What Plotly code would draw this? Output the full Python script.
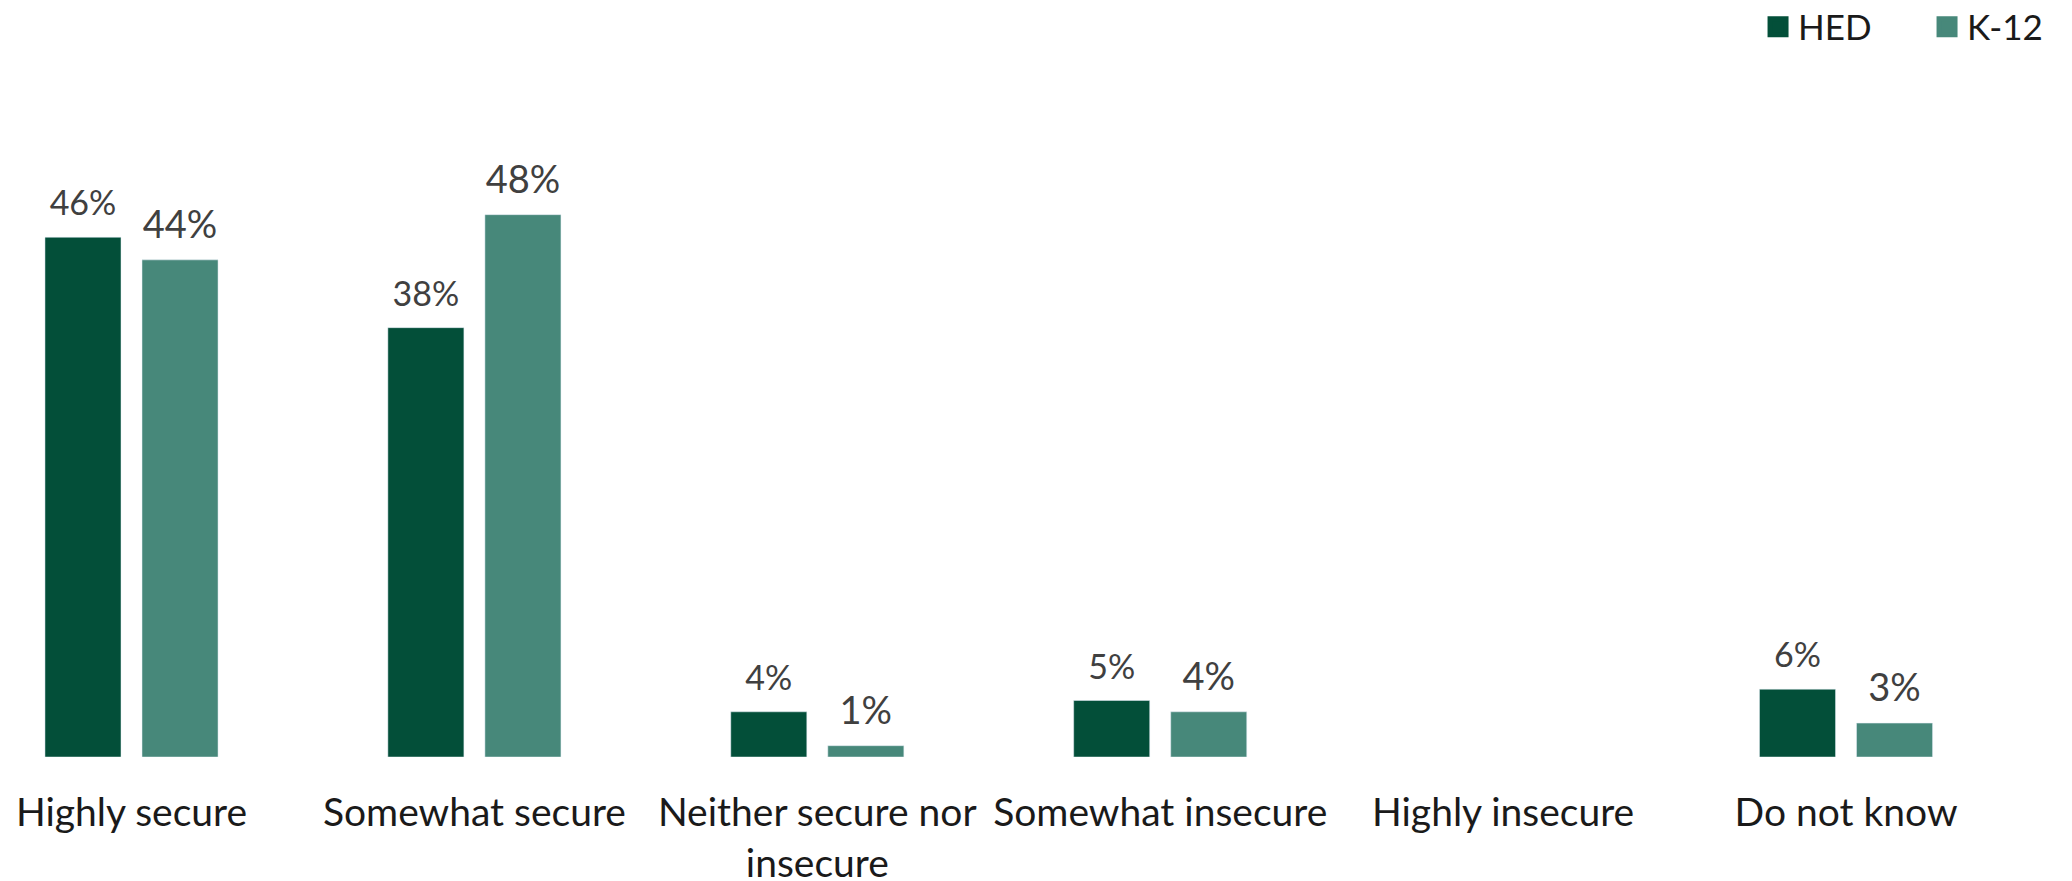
import plotly.graph_objects as go

categories = ["Highly secure", "Somewhat secure", "Neither secure nor insecure",
              "Somewhat insecure", "Highly insecure", "Do not know"]
tick_labels = ["Highly secure", "Somewhat secure", "Neither secure nor<br>insecure",
               "Somewhat insecure", "Highly insecure", "Do not know"]
hed_values = [46, 38, 4, 5, None, 6]
k12_values = [44, 48, 1, 4, None, 3]

HED_COLOR = "#034F39"
K12_COLOR = "#47887A"
LABEL_COLOR = "#404040"
FONT = "Lato, 'Open Sans', sans-serif"

series = [
    ("HED", hed_values, HED_COLOR, "hed", 34, 20),
    ("K-12", k12_values, K12_COLOR, "k12", 38, 18.4),
]

fig = go.Figure()
for name, vals, col, grp, fsize, msize in series:
    fig.add_trace(go.Bar(
        x=categories, y=vals, name=name, marker_color=col,
        offsetgroup=grp, showlegend=False, hoverinfo="skip",
    ))
for name, vals, col, grp, fsize, msize in series:
    # value labels, sitting above each bar
    fig.add_trace(go.Scatter(
        x=categories, y=vals, mode="markers+text", name=name,
        text=[None if v is None else f"{v}%" for v in vals],
        textposition="top center",
        textfont=dict(family=FONT, size=fsize, color=LABEL_COLOR),
        marker=dict(size=msize, color=col, opacity=0),
        offsetgroup=grp, cliponaxis=False, showlegend=False, hoverinfo="skip",
    ))
for name, vals, col, grp, fsize, msize in series:
    # legend swatches
    fig.add_trace(go.Scatter(
        x=[None], y=[None], mode="markers", name=name, offsetgroup=grp,
        marker=dict(symbol="square", size=16, color=col, line=dict(color=col, width=5)),
    ))

fig.update_layout(
    width=2072, height=881,
    margin=dict(l=0, r=0, t=0, b=124, autoexpand=False),
    paper_bgcolor="white", plot_bgcolor="white",
    barmode="group", bargap=0.434, bargroupgap=0.2165,
    scattermode="group", scattergap=0.434,
    font=dict(family=FONT, color="#1a1a1a"),
    hovermode=False,
    legend=dict(
        orientation="h", x=1.0116, xanchor="right", y=1.0033, yanchor="top",
        font=dict(family=FONT, size=35, color="#1a1a1a"),
        itemsizing="trace", entrywidth=124, bgcolor="rgba(0,0,0,0)",
    ),
    xaxis=dict(
        type="category", range=[-0.3835, 5.659],
        tickmode="array", tickvals=categories, ticktext=tick_labels,
        showgrid=False, zeroline=False, showline=False, ticks="",
        tickfont=dict(family=FONT, size=39, color="#1a1a1a"),
        ticklabelstandoff=29,
    ),
    yaxis=dict(range=[0, 67], visible=False, showgrid=False, zeroline=False),
)

fig.write_html("out.html", config={"displayModeBar": False},
               post_script="document.body.style.margin='0';")
